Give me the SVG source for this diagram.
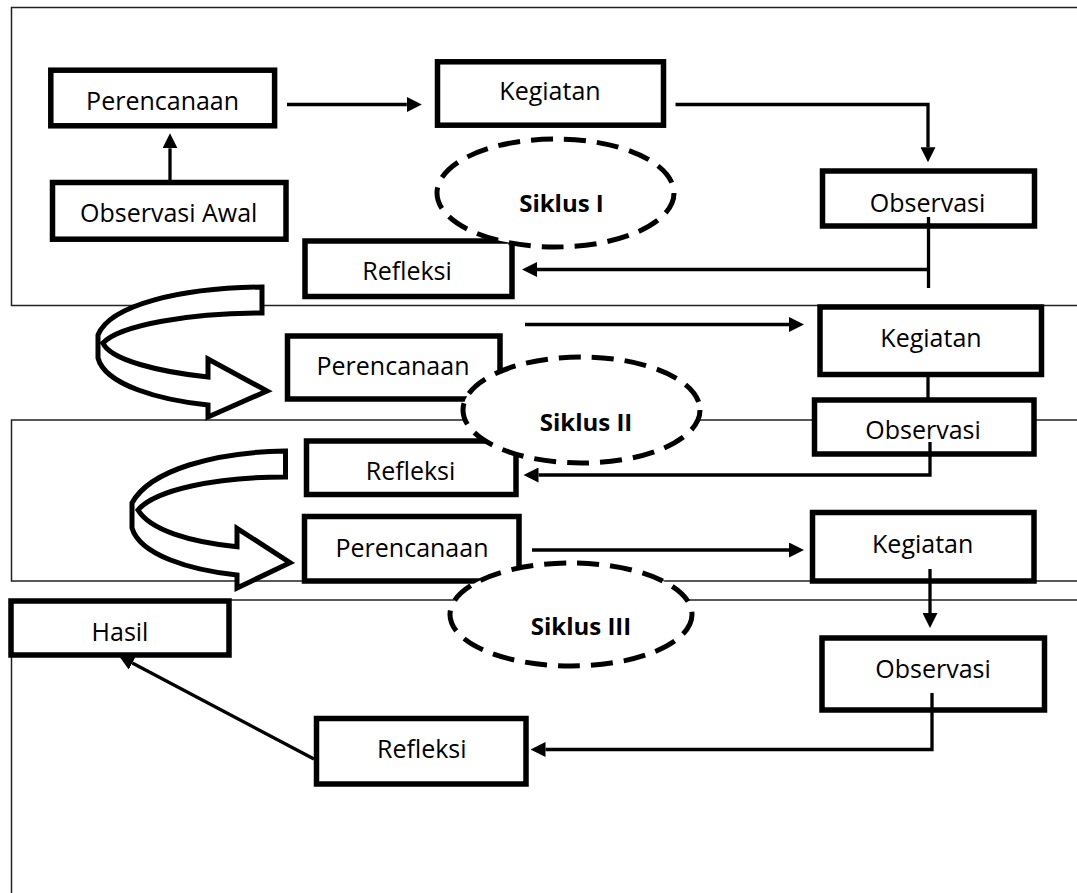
<svg xmlns="http://www.w3.org/2000/svg" width="1077" height="893" viewBox="0 0 1077 893">
<style>
.frame{fill:none;stroke:#222;stroke-width:1.5}
.box{fill:#fff;stroke:#000;stroke-width:5.5}
.t{font-family:"Open Sans","Liberation Sans",sans-serif;font-size:25px;fill:#000;text-anchor:middle}
.b{font-family:"Open Sans","Liberation Sans",sans-serif;font-size:24px;font-weight:bold;fill:#000;text-anchor:middle}
.c{fill:none;stroke:#000;stroke-width:3.3}
.ca{fill:none;stroke:#000;stroke-width:3.3;marker-end:url(#ah)}
.ell{fill:#fff;stroke:#000;stroke-width:5;stroke-dasharray:22 11}
.u{fill:#fff;stroke:#000;stroke-width:5;stroke-linejoin:miter}
</style>
<defs>
<marker id="ah" markerUnits="userSpaceOnUse" markerWidth="15" markerHeight="15" refX="0" refY="7.5" orient="auto">
<path d="M0,0 L15,7.5 L0,15 Z" fill="#000"/>
</marker>
</defs>
<rect width="1077" height="893" fill="#fff"/>
<g id="frames">
<path class="frame" d="M1077,7.5 H11.5 V305.5 H1077"/>
<path class="frame" d="M1077,420 H11.5 V581 H1077"/>
<path class="frame" d="M1077,600 H11.5 V893"/>
</g>
<g id="n-perencanaan1"><rect class="box" x="50.8" y="70.2" width="223.8" height="55.6"/><text class="t" x="162.6" y="110">Perencanaan</text></g>
<g id="n-observasiawal"><rect class="box" x="52.5" y="182.5" width="233.5" height="56.7"/><text class="t" x="168.7" y="221.7">Observasi Awal</text></g>
<g id="n-kegiatan1"><rect class="box" x="437.5" y="61.8" width="226" height="63.4"/><text class="t" x="550" y="100">Kegiatan</text></g>
<g id="n-observasi1"><rect class="box" x="822.5" y="171" width="212" height="55"/><text class="t" x="927.6" y="211.7">Observasi</text></g>
<g id="n-refleksi1"><rect class="box" x="305" y="241" width="207" height="55.5"/><text class="t" x="407" y="280">Refleksi</text></g>
<g id="n-perencanaan2"><rect class="box" x="287.5" y="336" width="212.5" height="63"/><text class="t" x="393" y="375">Perencanaan</text></g>
<g id="n-kegiatan2"><rect class="box" x="820" y="307" width="221.5" height="67.5"/><text class="t" x="931" y="346.7">Kegiatan</text></g>
<g id="n-observasi2"><rect class="box" x="814.5" y="400" width="219.5" height="54"/><text class="t" x="923" y="439.3">Observasi</text></g>
<g id="n-refleksi2"><rect class="box" x="306.5" y="441" width="209.5" height="53.5"/><text class="t" x="410.5" y="480">Refleksi</text></g>
<g id="n-perencanaan3"><rect class="box" x="304.5" y="516.5" width="214.5" height="64.5"/><text class="t" x="412" y="556.7">Perencanaan</text></g>
<g id="n-kegiatan3"><rect class="box" x="812.5" y="512.5" width="221.5" height="68.5"/><text class="t" x="922.7" y="552.7">Kegiatan</text></g>
<g id="n-hasil"><rect class="box" x="11" y="601" width="218" height="54"/><text class="t" x="120" y="641">Hasil</text></g>
<g id="n-observasi3"><rect class="box" x="822" y="638" width="222.5" height="72"/><text class="t" x="933" y="678.3">Observasi</text></g>
<g id="n-refleksi3"><rect class="box" x="316.5" y="718.5" width="209.5" height="65.5"/><text class="t" x="421.8" y="758.3">Refleksi</text></g>
<g id="connectors">
<path class="ca" d="M170,180 V148.3"/>
<path class="ca" d="M287,104.5 H406.8"/>
<path class="ca" d="M675.5,104.5 H928 V147.3"/>
<path class="c" d="M928.5,217 V288"/>
<path class="ca" d="M928.5,269.5 H537"/>
<path class="ca" d="M525,324.5 H789"/>
<path class="c" d="M928,377 V400"/>
<path class="ca" d="M930,442 V475 H538.5"/>
<path class="ca" d="M532,550 H789"/>
<path class="ca" d="M930,569 V613"/>
<path class="ca" d="M932,693 V749.5 H545.5"/>
<path class="ca" d="M314,759 L132.3,663"/>
</g>
<g id="u-arrow1">
<path class="u" d="M262,287 C180,288 110,305 98,335 L98,358 C105,385 160,400 208,405 L208,417 L267,391 L208,359 L208,377 C160,372 110,360 103,343 C120,325 190,313 262,313 Z"/>
</g>
<g id="u-arrow2">
<path class="u" d="M285.5,451 C215,452 150,470 132,503 L132,528 C140,555 190,570 237,575 L237,588 L290,562.7 L237,528.3 L237,546.7 C190,542 150,530 138,510 C155,490 215,477 285.5,477 Z"/>
</g>
<g id="siklus1"><ellipse class="ell" cx="555.5" cy="193" rx="118.5" ry="54"/><text class="b" x="561.5" y="212">Siklus I</text></g>
<g id="siklus2"><ellipse class="ell" cx="581.5" cy="410" rx="118.5" ry="53"/><text class="b" x="586" y="431">Siklus II</text></g>
<g id="siklus3"><ellipse class="ell" cx="571" cy="614.5" rx="121" ry="51.5"/><text class="b" x="581" y="635">Siklus III</text></g>
</svg>
